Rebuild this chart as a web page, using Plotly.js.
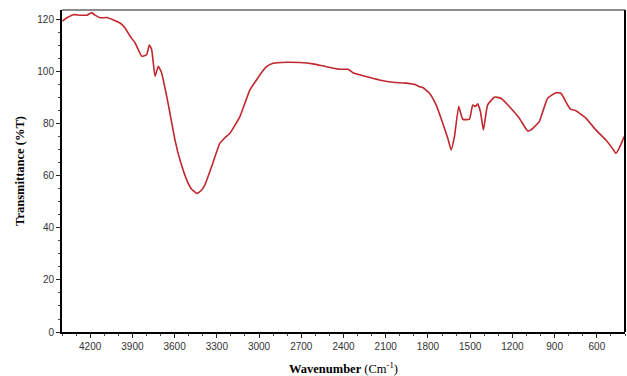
<!DOCTYPE html>
<html>
<head>
<meta charset="utf-8">
<script src="https://cdn.plot.ly/plotly-3.0.1.min.js"></script>
<style>
  html, body { margin: 0; padding: 0; background: #fff; }
  #chart { width: 627px; height: 376px; }
</style>
</head>
<body>
<div id="chart"></div>
<script>
// FTIR spectrum: wavenumber (cm^-1) vs transmittance (%T)
const wavenumber = [
  4398, 4365, 4318, 4271, 4223, 4188, 4165, 4129, 4082, 4023,
  3987, 3952, 3916, 3881, 3833, 3798, 3780, 3763, 3739, 3716,
  3692, 3668, 3656, 3633, 3597, 3562, 3514, 3480, 3443, 3415,
  3385, 3337, 3278, 3240, 3207, 3136, 3065, 3018, 2995, 2947,
  2900, 2805, 2711, 2617, 2522, 2427, 2368, 2333, 2238, 2144,
  2049, 1954, 1884, 1860, 1837, 1789, 1742, 1695, 1659, 1635,
  1612, 1581, 1553, 1505, 1482, 1463, 1447, 1427, 1406, 1376,
  1328, 1281, 1222, 1151, 1092, 1068, 1009, 950, 891, 855,
  808, 784, 749, 678, 607, 536, 489, 465, 442, 406
];
const transmittance = [
  119.5, 120.8, 122.0, 121.8, 121.8, 122.8, 121.8, 120.8, 120.9, 119.7,
  118.8, 116.9, 113.7, 111.2, 106.0, 106.7, 110.3, 108.6, 98.3, 102.2,
  99.6, 93.7, 90.6, 84.1, 73.8, 66.2, 58.5, 55.0, 53.3, 54.2,
  56.5, 63.6, 72.6, 74.8, 76.4, 82.8, 93.1, 96.9, 98.8, 102.0,
  103.3, 103.7, 103.6, 103.1, 102.0, 101.0, 101.0, 99.7, 98.2, 96.9,
  96.0, 95.7, 95.0, 94.3, 94.0, 91.8, 87.3, 80.3, 74.5, 70.0,
  75.1, 86.7, 81.8, 81.8, 87.3, 86.7, 87.7, 84.7, 77.7, 87.3,
  90.3, 89.9, 86.7, 82.2, 77.3, 77.7, 80.9, 89.9, 92.0, 91.8,
  87.3, 85.6, 85.1, 82.2, 77.7, 73.8, 70.6, 68.7, 70.6, 75.1
];
const xTicks = [4200, 3900, 3600, 3300, 3000, 2700, 2400, 2100, 1800, 1500, 1200, 900, 600];
const yTicks = [0, 20, 40, 60, 80, 100, 120];

const trace = {
  x: wavenumber,
  y: transmittance,
  type: 'scatter',
  mode: 'lines',
  line: { color: '#c1272d', width: 1.6, shape: 'spline', smoothing: 0.4 },
  hoverinfo: 'x+y'
};

const tickFont = { family: 'Liberation Sans, Arial, sans-serif', size: 10, color: '#333' };
const titleFont = { family: 'Liberation Serif, Times New Roman, serif', size: 12.5, color: '#000' };

const layout = {
  width: 627,
  height: 376,
  margin: { l: 62, r: 2, t: 10, b: 44 },
  paper_bgcolor: '#fff',
  plot_bgcolor: '#fff',
  showlegend: false,
  xaxis: {
    range: [4400, 400],
    tickvals: xTicks,
    ticktext: xTicks.map(String),
    ticks: 'outside',
    ticklen: 4,
    tickwidth: 1,
    tickcolor: '#222',
    minor: { dtick: 100, tick0: 0, ticks: 'outside', ticklen: 2, tickcolor: '#444' },
    showgrid: false,
    zeroline: false,
    showline: true,
    linecolor: '#000',
    linewidth: 2,
    tickfont: tickFont,
    title: { text: '<b>Wavenumber</b> (Cm<sup>-1</sup>)', font: titleFont, standoff: 13 }
  },
  yaxis: {
    range: [0, 123.8],
    tickvals: yTicks,
    ticks: 'outside',
    ticklen: 4,
    tickwidth: 1,
    tickcolor: '#222',
    minor: { dtick: 5, ticks: 'outside', ticklen: 2, tickcolor: '#444' },
    showgrid: false,
    zeroline: false,
    showline: true,
    linecolor: '#000',
    linewidth: 2,
    tickfont: tickFont,
    title: { text: '<b>Transmittance (%T)</b>', font: titleFont, standoff: 10 }
  },
  shapes: [
    { type: 'line', xref: 'paper', yref: 'paper', x0: 0, x1: 1, y0: 1, y1: 1,
      line: { color: '#666', width: 1.5 } },
    { type: 'line', xref: 'paper', yref: 'paper', x0: 1, x1: 1, y0: 0, y1: 1,
      line: { color: '#000', width: 2 } }
  ]
};

Plotly.newPlot('chart', [trace], layout, { displayModeBar: false, staticPlot: true });
</script>
</body>
</html>
